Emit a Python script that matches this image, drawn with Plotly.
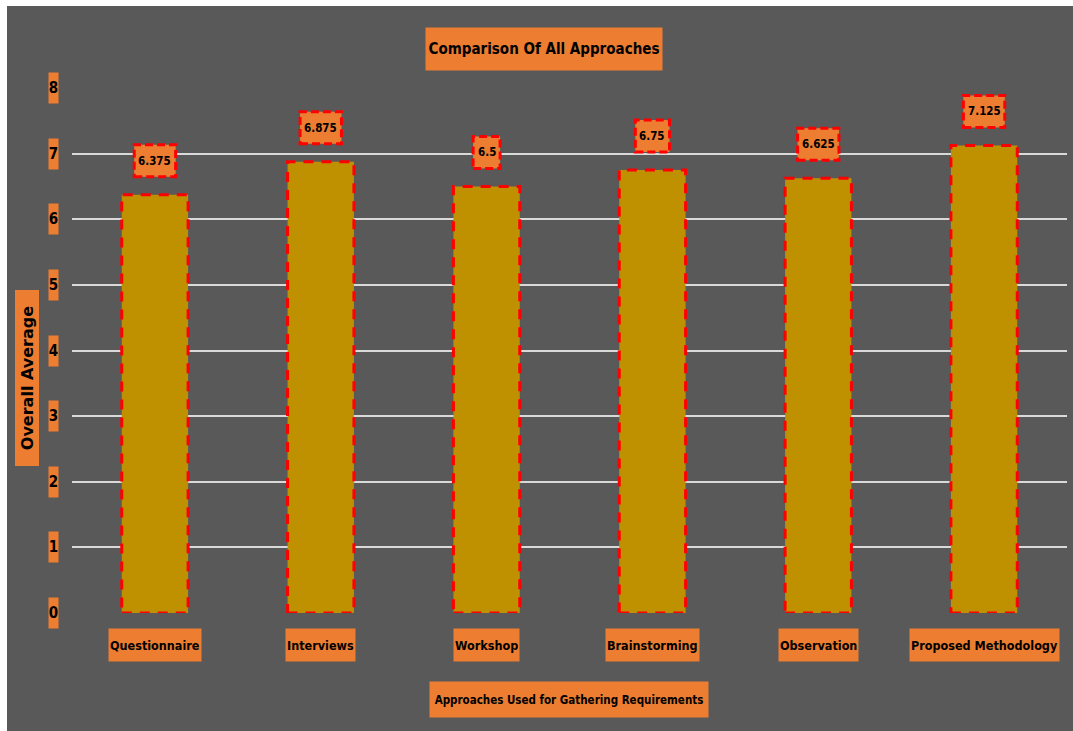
import plotly.graph_objects as go

categories = ["Questionnaire", "Interviews", "Workshop", "Brainstorming", "Observation", "Proposed Methodology"]
values = [6.375, 6.875, 6.5, 6.75, 6.625, 7.125]
value_labels = ["6.375", "6.875", "6.5", "6.75", "6.625", "7.125"]
y_ticks = [0, 1, 2, 3, 4, 5, 6, 7, 8]
title_text = "Comparison Of All Approaches"
x_title = "Approaches Used for Gathering Requirements"
y_title = "Overall Average"

W, H = 1073, 731
ML, MR, MT, MB = 72, 6, 88, 118
PW = W - ML - MR
PH = H - MT - MB

GRAY = "#595959"
ORANGE = "#ED7D31"
GOLD = "#BF9000"
RED = "#FF0000"
FONT = "DejaVu Sans Condensed, Noto Sans, sans-serif"


def px_x(px):
    return (px - ML) / PW


def px_y(py):
    return (H - MB - py) / PH


def label_width(s):
    return sum(3.6 if ch == "." else 7.2 for ch in s) + 9


fig = go.Figure()
fig.add_trace(go.Bar(
    x=list(range(len(categories))), y=values, marker=dict(color=GOLD, line=dict(width=0)),
    width=0.4, hovertext=categories, hoverinfo="text+y",
))

shapes = []
annotations = []
# white outer margin (left & top)
shapes.append(dict(type="rect", xref="paper", yref="paper", layer="above",
                   x0=px_x(0), x1=px_x(7), y0=px_y(H), y1=px_y(0),
                   fillcolor="white", line=dict(width=0)))
shapes.append(dict(type="rect", xref="paper", yref="paper", layer="above",
                   x0=px_x(0), x1=px_x(W), y0=px_y(6), y1=px_y(0),
                   fillcolor="white", line=dict(width=0)))

for i, (c, v, lab) in enumerate(zip(categories, values, value_labels)):
    # dashed bar outline
    shapes.append(dict(type="rect", xref="x", yref="y", x0=i - 0.2, x1=i + 0.2, y0=0, y1=v,
                       line=dict(color=RED, width=3, dash="10px,8px"), layer="above"))
    # value label: orange dashed box (shape) + text
    wlab = label_width(lab)
    shapes.append(dict(type="rect", xref="x", yref="y", xsizemode="pixel", ysizemode="pixel",
                       xanchor=i, yanchor=v, x0=-wlab / 2, x1=wlab / 2, y0=18, y1=50,
                       fillcolor=ORANGE, line=dict(color=RED, width=3, dash="8px,4px"),
                       layer="above"))
    annotations.append(dict(x=i, y=v, xref="x", yref="y", text="<b>" + lab + "</b>",
                            showarrow=False, yshift=34, xanchor="center", yanchor="middle",
                            font=dict(family=FONT, size=11.5, color="black")))
    # x tick label
    annotations.append(dict(x=i, y=0, xref="x", yref="paper", text="<b>" + c + "</b>",
                            showarrow=False, yshift=-32, xanchor="center", yanchor="middle",
                            bgcolor=ORANGE, borderpad=1, height=30,
                            font=dict(family=FONT, size=12.5, color="black")))

for t in y_ticks:
    annotations.append(dict(x=0, y=t, xref="paper", yref="y", text="<b>" + str(t) + "</b>",
                            showarrow=False, xshift=-19, xanchor="center", yanchor="middle",
                            bgcolor=ORANGE, borderpad=0, width=9, height=30,
                            font=dict(family=FONT, size=15, color="black")))

annotations.append(dict(x=px_x(544), y=px_y(49), xref="paper", yref="paper",
                        xanchor="center", yanchor="middle",
                        text="<b>" + title_text + "</b>", showarrow=False, bgcolor=ORANGE,
                        width=236, height=42, borderpad=0,
                        font=dict(family=FONT, size=15, color="black")))
annotations.append(dict(x=px_x(569), y=px_y(699), xref="paper", yref="paper",
                        xanchor="center", yanchor="middle",
                        text="<b>" + x_title + "</b>", showarrow=False, bgcolor=ORANGE,
                        width=278, height=35, borderpad=0,
                        font=dict(family=FONT, size=11.5, color="black")))
annotations.append(dict(x=px_x(26.5), y=px_y(378), xref="paper", yref="paper",
                        xanchor="center", yanchor="middle",
                        text="<b>" + y_title + "</b>", showarrow=False, bgcolor=ORANGE,
                        textangle=-90, width=175, height=23, borderpad=0,
                        font=dict(family="DejaVu Sans, sans-serif", size=16, color="black")))

fig.update_layout(
    width=W, height=H, margin=dict(l=ML, r=MR, t=MT, b=MB),
    paper_bgcolor=GRAY, plot_bgcolor=GRAY, showlegend=False,
    shapes=shapes, annotations=annotations,
    xaxis=dict(showticklabels=False, showgrid=False, zeroline=False, showline=False,
               range=[-0.5, len(categories) - 0.5]),
    yaxis=dict(range=[0, 8], tickvals=y_ticks, showticklabels=False, showgrid=True,
               gridcolor="#D9D9D9", gridwidth=1.5, zeroline=False, showline=False),
)

fig.write_html("out.html")
